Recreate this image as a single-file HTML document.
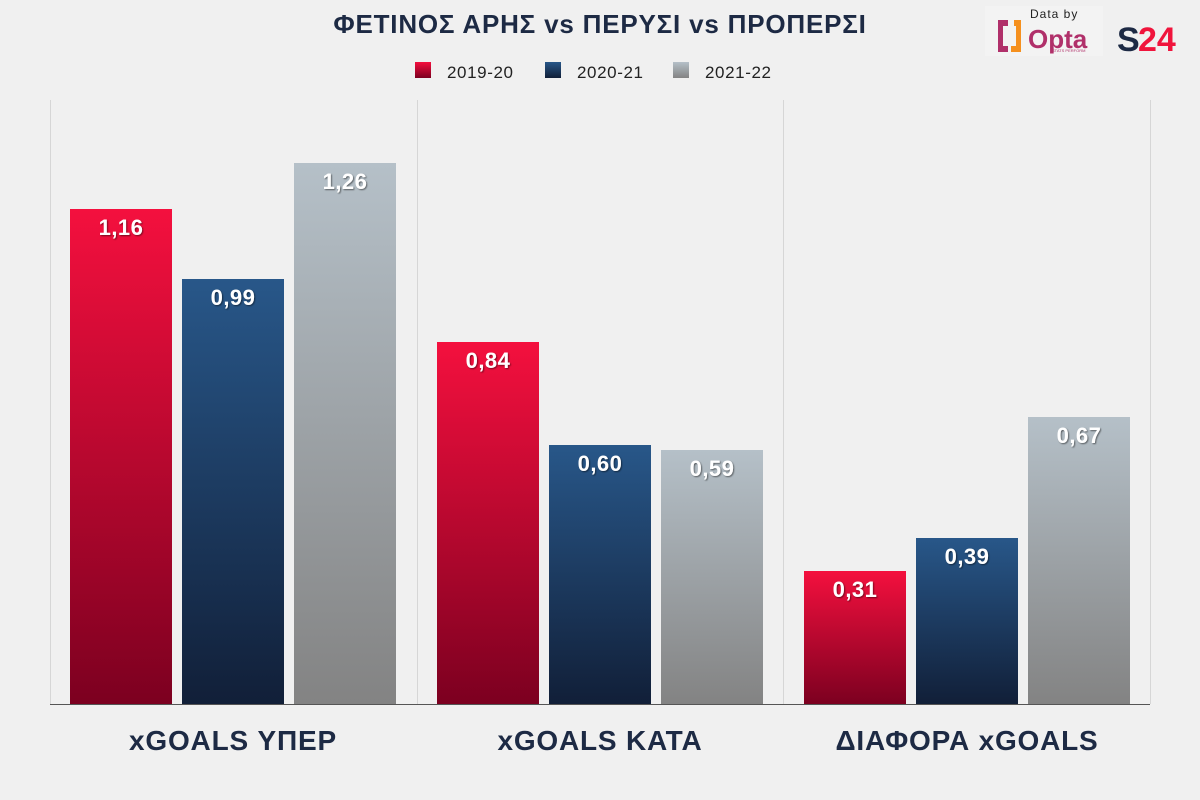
<!DOCTYPE html>
<html><head><meta charset="utf-8"><style>
body{margin:0;background:#f0f0f0;font-family:"Liberation Sans",sans-serif;}
</style></head><body>
<svg width="1200" height="800" xmlns="http://www.w3.org/2000/svg" style="display:block">
<defs>
<linearGradient id="r" x1="0" y1="0" x2="0" y2="1"><stop offset="0" stop-color="#f4103e"/><stop offset="1" stop-color="#7c0020"/></linearGradient>
<linearGradient id="b" x1="0" y1="0" x2="0" y2="1"><stop offset="0" stop-color="#285789"/><stop offset="1" stop-color="#111f38"/></linearGradient>
<linearGradient id="g" x1="0" y1="0" x2="0" y2="1"><stop offset="0" stop-color="#b5c0c8"/><stop offset="1" stop-color="#838383"/></linearGradient>
<filter id="sh"><feDropShadow dx="1" dy="1" stdDeviation="0.8" flood-color="#000" flood-opacity="0.5"/></filter>
</defs>
<rect width="1200" height="800" fill="#f0f0f0"/>
<text x="600" y="33" text-anchor="middle" font-size="26" font-weight="bold" fill="#1d2a44" letter-spacing="0.8">ΦΕΤΙΝΟΣ ΑΡΗΣ vs ΠΕΡΥΣΙ vs ΠΡΟΠΕΡΣΙ</text>
<rect x="415" y="62" width="16" height="16" fill="url(#r)"/><text x="447" y="78" font-size="17" fill="#222" letter-spacing="0.6">2019-20</text>
<rect x="545" y="62" width="16" height="16" fill="url(#b)"/><text x="577" y="78" font-size="17" fill="#222" letter-spacing="0.6">2020-21</text>
<rect x="673" y="62" width="16" height="16" fill="url(#g)"/><text x="705" y="78" font-size="17" fill="#222" letter-spacing="0.6">2021-22</text>
<!-- logos -->
<rect x="985" y="6" width="118" height="50" fill="#f3f3f3"/>
<text x="1030" y="18" font-size="12" fill="#222" letter-spacing="1">Data by</text>
<path d="M998 20 h10 v6 h-5 v20 h5 v6 h-10 z" fill="#b0306a"/><path d="M1014 20 h7 v32 h-10 v-6 h5 v-20 h-2 z" fill="#f5901e"/>
<text x="1028" y="48" font-size="26" font-weight="bold" fill="#b0306a">Opta</text>
<text x="1052" y="52" font-size="4" fill="#b0306a">STATS PERFORM</text>
<text x="1117" y="51" font-size="34" font-weight="bold" fill="#1d2a44">S</text>
<text x="1138" y="51" font-size="34" font-weight="bold" fill="#f0143c">24</text>
<!-- grid -->
<g stroke="#d6d6d6" stroke-width="1">
<line x1="50.5" y1="100" x2="50.5" y2="704"/><line x1="417.5" y1="100" x2="417.5" y2="704"/><line x1="783.5" y1="100" x2="783.5" y2="704"/><line x1="1150.5" y1="100" x2="1150.5" y2="704"/>
</g>
<g>
<rect x="70" y="209" width="102" height="495" fill="url(#r)"/>
<rect x="182" y="279" width="102" height="425" fill="url(#b)"/>
<rect x="294" y="163" width="102" height="541" fill="url(#g)"/>
<rect x="437" y="342" width="102" height="362" fill="url(#r)"/>
<rect x="549" y="445" width="102" height="259" fill="url(#b)"/>
<rect x="661" y="450" width="102" height="254" fill="url(#g)"/>
<rect x="804" y="571" width="102" height="133" fill="url(#r)"/>
<rect x="916" y="538" width="102" height="166" fill="url(#b)"/>
<rect x="1028" y="417" width="102" height="287" fill="url(#g)"/>
</g>
<g font-size="22" font-weight="bold" fill="#fff" text-anchor="middle" filter="url(#sh)" letter-spacing="0.5">
<text x="121" y="235">1,16</text><text x="233" y="305">0,99</text><text x="345" y="189">1,26</text>
<text x="488" y="368">0,84</text><text x="600" y="471">0,60</text><text x="712" y="476">0,59</text>
<text x="855" y="597">0,31</text><text x="967" y="564">0,39</text><text x="1079" y="443">0,67</text>
</g>
<line x1="50" y1="704.5" x2="1150" y2="704.5" stroke="#555" stroke-width="1"/>
<g font-size="28" font-weight="bold" fill="#1d2a44" text-anchor="middle" letter-spacing="0.8">
<text x="233" y="750">xGOALS ΥΠΕΡ</text><text x="600" y="750">xGOALS ΚΑΤΑ</text><text x="967" y="750">ΔΙΑΦΟΡΑ xGOALS</text>
</g>
</svg>
</body></html>
